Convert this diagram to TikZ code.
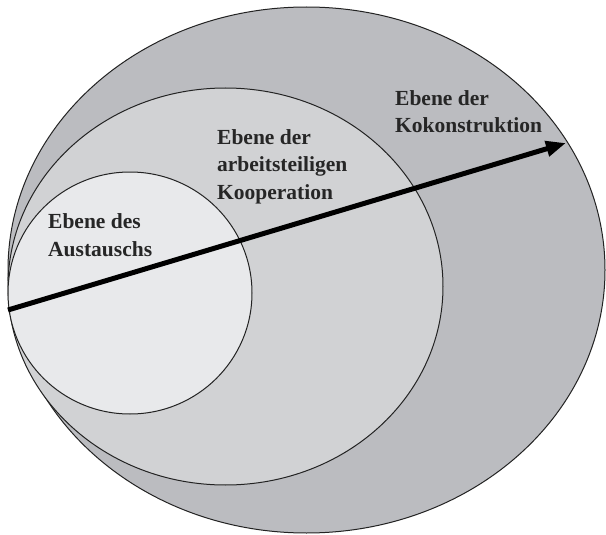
\documentclass[tikz,border=0pt]{standalone}
\usepackage{fontspec}
\setmainfont{Liberation Serif}
\usetikzlibrary{arrows.meta}
\definecolor{outerfill}{RGB}{187,188,192}
\definecolor{midfill}{RGB}{209,210,212}
\definecolor{innerfill}{RGB}{232,233,235}
\definecolor{edge}{RGB}{35,35,35}
\tikzset{
  level/.style={draw=edge, line width=1pt},
  label/.style={font=\fontsize{21.5}{27.8}\selectfont\bfseries, text=black!85, align=left, anchor=north west, inner sep=0pt},
  growth/.style={line width=5pt, -{Triangle[length=20pt,width=15pt]}, black}
}
\begin{document}
\begin{tikzpicture}[x=1pt,y=-1pt]
\useasboundingbox (0,0) rectangle (606,535);
\fill[white] (0,0) rectangle (606,535);
\draw[level, fill=outerfill] (306.5,270) ellipse [x radius=298.5, y radius=263];
\draw[level, fill=midfill] (225.5,286.5) ellipse [x radius=217.5, y radius=198.5];
\draw[level, fill=innerfill] (130,293) ellipse [x radius=122, y radius=121];
\coordinate (arrowstart) at (8,310);
\coordinate (arrowend) at (566,143);
\draw[growth] (arrowstart) -- (arrowend);
\node[label] (kokon) at (395,90) {Ebene der\\Kokonstruktion};
\node[label] (koop) at (217,129) {Ebene der\\arbeitsteiligen\\Kooperation};
\node[label] (aust) at (48,213.5) {Ebene des\\Austauschs};
\end{tikzpicture}
\end{document}
